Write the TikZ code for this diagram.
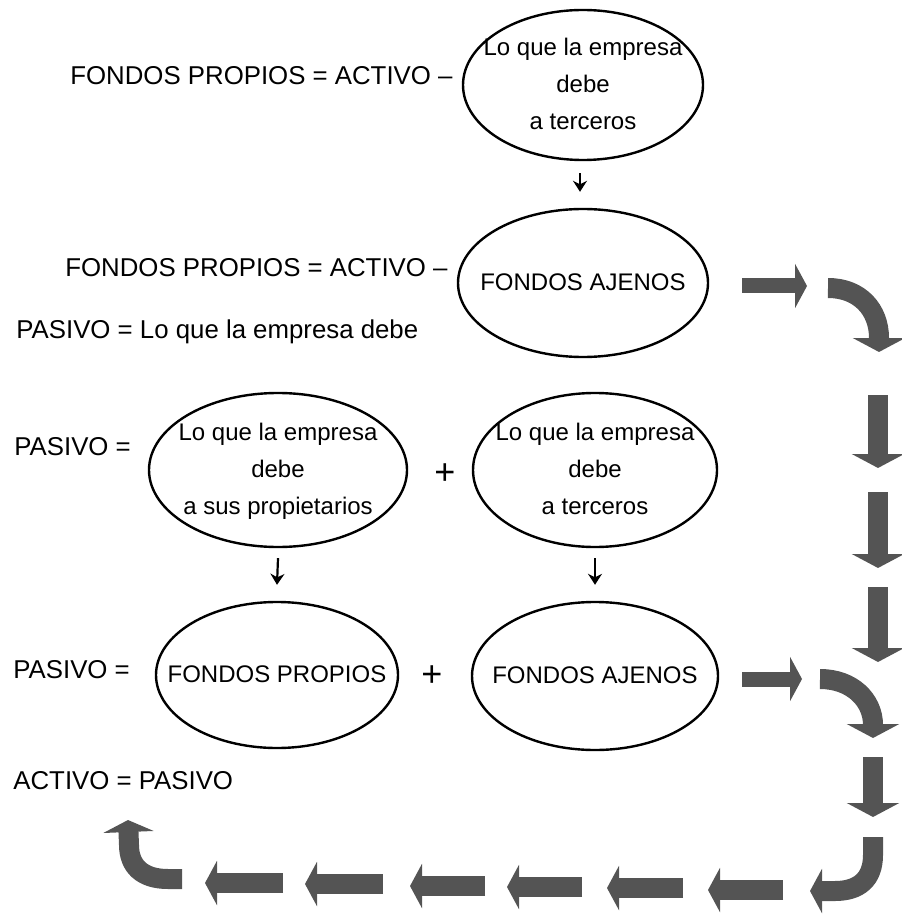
\documentclass[tikz,border=0pt]{standalone}
\usepackage{fontspec}
\setmainfont{Liberation Sans}
\usetikzlibrary{shapes.geometric,arrows.meta}
\definecolor{arrowgray}{RGB}{84,84,84}
% text set inside an oval without widening it
\newcommand\ovaltext[1]{\smash{\makebox[0pt]{\raisebox{-3pt}{\begin{tabular}{@{}c@{}}#1\end{tabular}}}}}
\tikzset{
  oval/.style={draw, ellipse, line width=1.2pt, inner sep=0pt,
    font=\fontsize{12}{18.5}\selectfont},
  eqtext/.style={anchor=west, inner sep=0pt, font=\fontsize{12.9}{15}\selectfont},
  plus/.style={inner sep=0pt, font=\fontsize{18}{20}\selectfont},
  smallarrow/.style={line width=1.1pt, -{Stealth[length=5.5pt,width=7pt]}},
  bigdown/.style={draw=arrowgray, line width=10pt, -{Triangle[length=7pt,width=26pt]}},
  bigleft/.style={draw=arrowgray, line width=10pt, -{Triangle[length=6pt,width=22pt]}},
  bigright/.style={draw=arrowgray, line width=7.5pt, -{Triangle[length=6pt,width=22pt]}},
  bigup/.style={draw=arrowgray, line width=10pt, -{Triangle[length=6pt,width=25pt]}},
}
\begin{document}
\begin{tikzpicture}[x=0.5pt,y=-0.5pt]
\useasboundingbox (0,0) rectangle (901,914);

% ---- first equation ----
\node[eqtext] (t1) at (70,76) {FONDOS PROPIOS = ACTIVO --};
\node[oval, minimum width=120pt, minimum height=75pt] (e1) at (583,85)
  {\ovaltext{Lo que la empresa\\debe\\a terceros}};

% ---- second equation ----
\node[eqtext] (t2) at (65,268) {FONDOS PROPIOS = ACTIVO --};
\node[oval, minimum width=125pt, minimum height=74pt] (e2) at (583,283)
  {\ovaltext{FONDOS AJENOS}};
\node[eqtext] (t3) at (16,332) {PASIVO = Lo que la empresa debe};

\draw[smallarrow] ([xshift=-1.5pt,yshift=-6pt]e1.south) -- ([xshift=-1.5pt,yshift=8pt]e2.north);

% ---- third equation ----
\node[eqtext] (t4) at (14,447) {PASIVO =};
\node[oval, minimum width=129pt, minimum height=77pt] (e3) at (278,470)
  {\ovaltext{Lo que la empresa\\debe\\a sus propietarios}};
\node[plus] (p1) at (445,474) {+};
\node[oval, minimum width=122pt, minimum height=77pt] (e4) at (595,470)
  {\ovaltext{Lo que la empresa\\debe\\a terceros}};

% ---- fourth equation ----
\node[eqtext] (t6) at (13,670) {PASIVO =};
\node[oval, minimum width=121pt, minimum height=73pt] (e5) at (277,675)
  {\ovaltext{FONDOS PROPIOS}};
\node[plus] (p2) at (432,676) {+};
\node[oval, minimum width=123pt, minimum height=74pt] (e6) at (595,676)
  {\ovaltext{FONDOS AJENOS}};

\draw[smallarrow] ([yshift=-5pt]e3.south) -- ([yshift=8pt]e5.north);
\draw[smallarrow] ([yshift=-5pt]e4.south) -- ([yshift=8pt]e6.north);

\node[eqtext] (t8) at (13,781) {ACTIVO = PASIVO};

% ---- loop of block arrows round the right side and the bottom ----
\draw[bigright] (742,286) -- (807,286);
\draw[bigdown] (828,288) .. controls (860,288) and (879,310) .. (879,338) -- (879,352);
\draw[bigdown] (878,395) -- (878,468);
\draw[bigdown] (878,492) -- (878,568);
\draw[bigdown] (878,587) -- (878,662);

\draw[bigright] (742,679) -- (802,679);
\draw[bigdown] (820,679) .. controls (852,679) and (873,700) .. (873,725) -- (873,738);
\draw[bigdown] (873,757) -- (873,817);
\draw[bigleft] (873,837) -- (873,855) .. controls (873,880) and (858,891) .. (835,891) -- (810,891);

\draw[bigleft] (783,890) -- (708,890);
\draw[bigleft] (683,888) -- (607,888);
\draw[bigleft] (582,887) -- (507,887);
\draw[bigleft] (485,886) -- (410,886);
\draw[bigleft] (383,884) -- (305,884);
\draw[bigleft] (283,883) -- (205,883);

\draw[bigup] (182,879) -- (168,879) .. controls (142,879) and (129,866) .. (129,845) -- (128,820);
\end{tikzpicture}
\end{document}
